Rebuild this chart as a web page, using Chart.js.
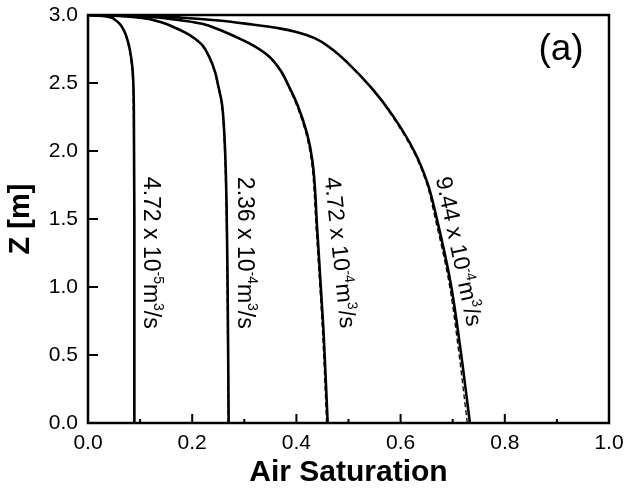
<!DOCTYPE html>
<html>
<head>
<meta charset="utf-8">
<script src="https://cdn.jsdelivr.net/npm/chart.js@4.4.1/dist/chart.umd.min.js"></script>
<style>
  html, body { margin: 0; padding: 0; background: #fff; }
  #wrap { width: 626px; height: 495px; }
</style>
</head>
<body>
<div id="wrap"><canvas id="chart"></canvas></div>
<script>
// air saturation profiles, z ascending from bottom to top
const z1 = [0, 1.5, 2.3, 2.5, 2.62, 2.73, 2.80, 2.87, 2.93, 2.965, 2.99, 3.0];
const sat1 = [0.089, 0.089, 0.088, 0.087, 0.085, 0.081, 0.077, 0.071, 0.062, 0.052, 0.035, 0.0];
const sat1b = [0.088, 0.088, 0.087, 0.086, 0.084, 0.080, 0.076, 0.070, 0.061, 0.051, 0.035, 0.0];

const z2 = [0, 1.0, 1.6, 2.1, 2.35, 2.48, 2.58, 2.69, 2.78, 2.84, 2.87, 2.91, 2.945, 2.98, 2.995, 3.0];
const sat2 = [0.270, 0.268, 0.266, 0.262, 0.257, 0.250, 0.244, 0.233, 0.219, 0.200, 0.187, 0.165, 0.142, 0.100, 0.050, 0.0];
const sat2b = [0.269, 0.267, 0.265, 0.261, 0.256, 0.249, 0.243, 0.232, 0.218, 0.199, 0.186, 0.164, 0.141, 0.100, 0.050, 0.0];

const z3 = [0, 0.68, 1.42, 1.92, 2.12, 2.34, 2.48, 2.59, 2.70, 2.78, 2.84, 2.895, 2.935, 2.965, 2.99, 3.0];
const sat3 = [0.460, 0.452, 0.440, 0.431, 0.421, 0.402, 0.385, 0.370, 0.346, 0.315, 0.283, 0.250, 0.219, 0.170, 0.100, 0.0];
const sat3b = [0.458, 0.450, 0.438, 0.429, 0.419, 0.400, 0.384, 0.369, 0.345, 0.314, 0.282, 0.249, 0.218, 0.170, 0.100, 0.0];

const z4 = [0, 0.54, 1.03, 1.51, 1.76, 2.0, 2.26, 2.46, 2.65, 2.75, 2.83, 2.875, 2.90, 2.93, 2.96, 2.98, 2.995, 3.0];
const sat4 = [0.733, 0.715, 0.696, 0.669, 0.652, 0.626, 0.585, 0.545, 0.498, 0.468, 0.435, 0.400, 0.370, 0.315, 0.250, 0.180, 0.100, 0.0];
const sat4b = [0.728, 0.711, 0.693, 0.666, 0.650, 0.624, 0.583, 0.544, 0.497, 0.467, 0.434, 0.399, 0.369, 0.314, 0.249, 0.180, 0.100, 0.0];

const xTicks = [0.0, 0.2, 0.4, 0.6, 0.8, 1.0];
const xMinor = [0.1, 0.3, 0.5, 0.7, 0.9];
const yTicks = [0.0, 0.5, 1.0, 1.5, 2.0, 2.5, 3.0];

// flow-rate labels: [base, exponent], anchor (sat, z), rotation in degrees
const labelExp = ['-5', '-4', '-4', '-4'];
const labelBase = ['4.72 x 10', '2.36 x 10', '4.72 x 10', '9.44 x 10'];
const labelSat = [0.124, 0.304, 0.470, 0.683];
const labelZ = [1.81, 1.81, 1.81, 1.81];
const labelRot = [90, 90, 84, 78];

const FONT = '"Liberation Sans", Arial, Helvetica, sans-serif';

function pts(xs, zs) {
  return xs.map((v, i) => ({ x: v, y: zs[i] }));
}

function solid(xs, zs) {
  return { data: pts(xs, zs), borderColor: '#000', borderWidth: 2.6, pointRadius: 0, showLine: true, cubicInterpolationMode: 'monotone', fill: false };
}
function dashed(xs, zs) {
  return { data: pts(xs, zs), borderColor: '#000', borderWidth: 1.3, borderDash: [5, 3], pointRadius: 0, showLine: true, cubicInterpolationMode: 'monotone', fill: false };
}

const decor = {
  id: 'decor',
  afterDatasetsDraw(chart) {
    const ctx = chart.ctx;
    const a = chart.chartArea;
    const xs = chart.scales.x, ys = chart.scales.y;
    ctx.save();
    ctx.strokeStyle = '#000';
    ctx.lineWidth = 2.5;
    ctx.strokeRect(a.left, a.top, a.right - a.left, a.bottom - a.top);
    ctx.lineWidth = 2;
    ctx.beginPath();
    xTicks.forEach(v => {
      const px = xs.getPixelForValue(v);
      ctx.moveTo(px, a.bottom); ctx.lineTo(px, a.bottom - 9);
    });
    xMinor.forEach(v => {
      const px = xs.getPixelForValue(v);
      ctx.moveTo(px, a.bottom); ctx.lineTo(px, a.bottom - 4);
    });
    yTicks.forEach(v => {
      const py = ys.getPixelForValue(v);
      ctx.moveTo(a.left, py); ctx.lineTo(a.left + 10, py);
    });
    ctx.stroke();

    // rotated flow labels
    const size = 23, sup = 14;
    labelBase.forEach((base, i) => {
      const px = xs.getPixelForValue(labelSat[i]);
      const py = ys.getPixelForValue(labelZ[i]);
      ctx.save();
      ctx.translate(px, py);
      ctx.rotate(labelRot[i] * Math.PI / 180);
      ctx.fillStyle = '#000';
      ctx.textAlign = 'left';
      ctx.textBaseline = 'alphabetic';
      const base0 = size * 0.36;
      const supY = base0 - size * 0.42;
      let x = 0;
      const parts = [
        [base, size, base0], [labelExp[i], sup, supY], ['m', size, base0], ['3', sup, supY], ['/s', size, base0]
      ];
      parts.forEach(p => {
        ctx.font = p[1] + 'px ' + FONT;
        ctx.fillText(p[0], x, p[2]);
        x += ctx.measureText(p[0]).width;
      });
      ctx.restore();
    });

    // panel tag
    ctx.fillStyle = '#000';
    ctx.font = '37px ' + FONT;
    ctx.textAlign = 'center';
    ctx.textBaseline = 'middle';
    ctx.fillText('(a)', xs.getPixelForValue(0.908), ys.getPixelForValue(2.745));
    ctx.restore();
  }
};

new Chart(document.getElementById('chart'), {
  type: 'scatter',
  data: {
    datasets: [
      solid(sat1, z1), dashed(sat1b, z1),
      solid(sat2, z2), dashed(sat2b, z2),
      solid(sat3, z3), dashed(sat3b, z3),
      solid(sat4, z4), dashed(sat4b, z4)
    ]
  },
  options: {
    indexAxis: 'y',
    responsive: true,
    maintainAspectRatio: false,
    animation: false,
    layout: { padding: { top: 15, right: 17, left: 0, bottom: 0 } },
    plugins: { legend: { display: false }, tooltip: { enabled: false } },
    scales: {
      x: {
        type: 'linear', min: 0, max: 1,
        afterBuildTicks: s => { s.ticks = xTicks.map(v => ({ value: v })); },
        afterFit: s => { s.height = 72; s.paddingLeft = 0; s.paddingRight = 0; },
        grid: { display: false, drawTicks: false },
        border: { display: false },
        ticks: { color: '#000', padding: 8, font: { size: 21, family: FONT }, callback: v => v.toFixed(1), maxRotation: 0 },
        title: { display: true, text: 'Air Saturation', color: '#000', font: { size: 30, weight: 'bold', family: FONT }, padding: { top: 0 } }
      },
      y: {
        type: 'linear', min: 0, max: 3,
        afterBuildTicks: s => { s.ticks = yTicks.map(v => ({ value: v })); },
        afterFit: s => { s.width = 88; s.paddingTop = 0; s.paddingBottom = 0; },
        grid: { display: false, drawTicks: false },
        border: { display: false },
        ticks: { color: '#000', padding: 10, font: { size: 21, family: FONT }, callback: v => v.toFixed(1) },
        title: { display: true, text: 'Z [m]', color: '#000', font: { size: 29, weight: 'bold', family: FONT }, padding: { bottom: 0 } }
      }
    }
  },
  plugins: [decor]
});
</script>
</body>
</html>
